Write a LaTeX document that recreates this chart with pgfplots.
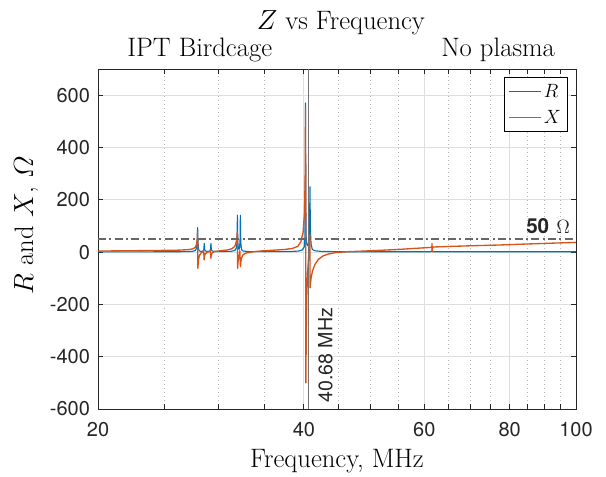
\documentclass[border=0pt]{standalone}
\usepackage{fontspec}
\usepackage{amsmath}
\usepackage{pgfplots}
\pgfplotsset{compat=1.18}
\newfontfamily\heros{TeX Gyre Heros}
\definecolor{mblue}{rgb}{0,0.447,0.741}
\definecolor{morange}{rgb}{0.85,0.325,0.098}
\definecolor{axgray}{rgb}{0.15,0.15,0.15}

% R and X of the birdcage, no plasma
\pgfplotstableread{
f      R
20     0.8
22     0.9
24     1.0
26     1.3
27     1.8
27.5   3
27.75  6
27.87  15
27.93  40
27.97  94
28.01  35
28.06  10
28.15  4
28.35  2.5
28.5   4
28.56  10
28.6   33
28.64  10
28.72  4
28.95  2.5
29.15  4
29.21  10
29.25  33
29.29  10
29.38  4
29.7   2
30.5   2
31.3   3
31.7   6
31.87  15
31.94  45
31.98  141
32.02  40
32.08  15
32.15  10
32.22  18
32.27  50
32.3   141
32.34  40
32.42  10
32.6   4
33.2   2
35     1.5
37     1.8
38.5   2.5
39.3   4
39.8   8
40.05  20
40.14  60
40.19  250
40.22  570
40.25  250
40.3   60
40.4   30
40.5   25
40.65  35
40.77  90
40.83  250
40.88  90
40.98  30
41.15  10
41.5   5
42.5   2.5
45     1.5
50     1.2
55     1.1
61.3   1.2
61.55  4
61.6   9
61.65  4
61.9   1.3
70     1.2
80     1.3
90     1.4
100    1.5
}\Rdata

\pgfplotstableread{
f      X
20     4
22     5
24     6
26     7
27     9
27.5   12
27.75  18
27.87  30
27.93  50
27.96  78
27.99  -62
28.02  -45
28.07  -25
28.15  -12
28.3   -3
28.45  0
28.55  6
28.59  -30
28.63  -15
28.7   -6
28.9   -1
29.1   2
29.2   6
29.24  -24
29.28  -12
29.35  -4
29.6   2
30.2   5
30.9   8
31.4   13
31.7   22
31.85  38
31.93  60
31.97  78
32.0   -62
32.04  -40
32.1   -22
32.18  -10
32.24  5
32.31  -56
32.36  -35
32.45  -20
32.6   -10
32.9   -4
33.5   0
34.5   4
36     7
37.5   10
38.5   14
39.2   22
39.6   40
39.9   75
40.08  150
40.17  280
40.22  555
40.27  -500
40.32  -300
40.4   -160
40.5   -80
40.6   -35
40.7   0
40.78  40
40.82  65
40.85  -137
40.9   -120
41.0   -95
41.2   -70
41.5   -48
42.0   -28
42.7   -14
43.5   -7
44.5   -2
46     1
50     5
55     10
58     14
61.4   18
61.55  20
61.58  33
61.62  0
61.66  18
62     19.5
66     22
70     24
77     27
85     31
92     34
100    37
}\Xdata

\begin{document}
\begin{tikzpicture}
\useasboundingbox (-73.5pt,-50.25pt) rectangle (381pt,306.75pt);
\begin{axis}[
  scale only axis, width=358.5pt, height=255pt,
  xmode=log, xmin=20, xmax=100, ymin=-600, ymax=700,
  xtick={20,40,60,80,100}, xticklabels={20,40,60,80,100},
  minor xtick={25,30,35,45,50,55,65,70,75,85,90,95},
  ytick={-600,-400,-200,0,200,400,600},
  yticklabels={-600,-400,-200,0,200,400,600},
  xmajorgrids, xminorgrids, ymajorgrids,
  major grid style={black!13, line width=0.6pt},
  minor grid style={black!28, line width=0.6pt, dash pattern=on 0.7pt off 2.3pt},
  tick align=inside, major tick length=3.5pt, minor tick length=3.5pt,
  axis line style={axgray, line width=0.6pt},
  major tick style={axgray, line width=0.6pt},
  minor tick style={axgray, line width=0.6pt},
  tick label style={font=\fontsize{15}{17}\selectfont\heros, text=axgray},
  xticklabel style={yshift=-6.5pt},
  yticklabel style={xshift=-2.5pt},
  xlabel={Frequency, MHz},
  xlabel style={at={(axis description cs:0.5,0)}, anchor=base, yshift=-43.5pt,
    font=\fontsize{20}{24}\selectfont},
  ylabel={$R$ and $X$, $\varOmega$},
  ylabel style={at={(axis description cs:-0.136,0.541)}, anchor=base,
    font=\fontsize{20}{24}\selectfont},
  legend style={at={(0.983,0.976)}, anchor=north east,
    font=\fontsize{14.5}{17}\selectfont,
    inner xsep=3pt, inner ysep=3pt, row sep=4pt},
  legend cell align=left,
  legend image code/.code={\draw[#1, line width=1pt] (0pt,0pt) -- (24pt,0pt);},
  clip=false,
]
\addplot[mblue, line width=0.85pt, line join=round] table[x=f, y=R] {\Rdata};
\addlegendentry{$R$}
\addplot[morange, line width=1pt, line join=round] table[x=f, y=X] {\Xdata};
\addlegendentry{$X$}

% 50 Ohm reference
\addplot[forget plot, black!60, line width=1pt, dash pattern=on 6pt off 2.5pt on 1.5pt off 2.5pt]
  coordinates {(20,50) (100,50)};
% 40.68 MHz marker
\addplot[forget plot, black!55, line width=0.9pt] coordinates {(40.68,-600) (40.68,700)};

\node[anchor=base east, inner sep=0pt, text=axgray,
  font=\fontsize{15.5}{18}\selectfont\heros\bfseries] at (axis cs:98.1,72.6) {50\hspace{0.35em}$\Omega$};
\node[rotate=90, anchor=north west, inner sep=0pt, text=axgray,
  font=\fontsize{14.7}{17}\selectfont\heros] at (axis cs:41.93,-577) {40.68 MHz};

\node[anchor=base, font=\fontsize{20}{24}\selectfont] at (axis description cs:0.508,1.1176) {$Z$ vs Frequency};
\node[anchor=base, font=\fontsize{20}{24}\selectfont] at (axis description cs:0.213,1.038) {IPT Birdcage};
\node[anchor=base, font=\fontsize{20}{24}\selectfont] at (axis description cs:0.837,1.038) {No plasma};
\end{axis}
\end{tikzpicture}
\end{document}
